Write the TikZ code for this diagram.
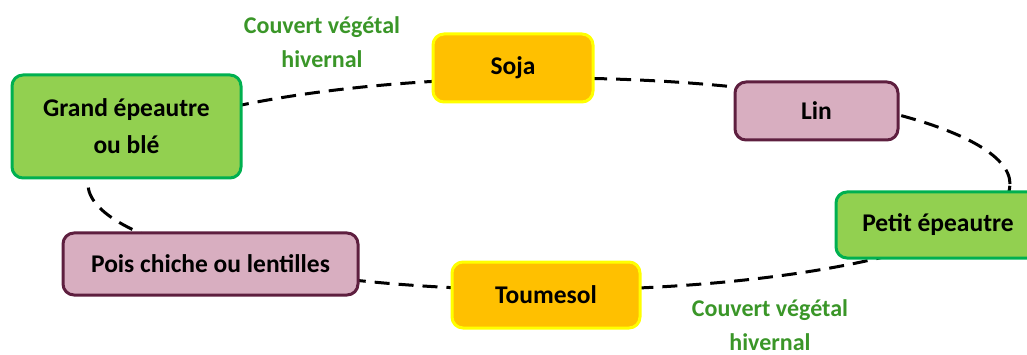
\documentclass[tikz,border=0pt]{standalone}
\usepackage{fontspec}
\setmainfont{Carlito}
\definecolor{gfill}{RGB}{146,208,80}
\definecolor{gdraw}{RGB}{0,176,80}
\definecolor{ofill}{RGB}{255,192,0}
\definecolor{odraw}{RGB}{255,255,0}
\definecolor{pfill}{RGB}{216,174,192}
\definecolor{pdraw}{RGB}{94,31,63}
\definecolor{covtext}{RGB}{58,150,40}
\begin{document}
\begin{tikzpicture}[x=1pt,y=-1pt,
  crop/.style={rectangle,rounded corners=11pt,line width=3pt,align=center,
    font=\fontsize{25.5}{37}\selectfont\bfseries,inner sep=0pt},
  cereal/.style={crop,fill=gfill,draw=gdraw},
  legume/.style={crop,fill=ofill,draw=odraw},
  other/.style={crop,fill=pfill,draw=pdraw},
  cover/.style={align=center,text=covtext,font=\fontsize{24}{34}\selectfont\bfseries,inner sep=0pt},
  ring/.style={line width=3pt,dash pattern=on 15pt off 9pt}]
\useasboundingbox (0,0) rectangle (1027,355);
\begin{scope}
\clip (0,0) rectangle (1027,355);
\draw[ring] (549,184) ellipse [x radius=461pt, y radius=106pt];
\node[cereal,minimum width=229pt,minimum height=103pt] (grand) at (126.5,126.5) {Grand épeautre\\ou blé};
\node[legume,minimum width=160pt,minimum height=68pt] (soja) at (513,68) {Soja};
\node[other,minimum width=163pt,minimum height=58pt] (lin) at (816.5,111) {Lin};
\node[cereal,minimum width=204pt,minimum height=66pt] (petit) at (938,225) {Petit épeautre};
\node[other,minimum width=295pt,minimum height=62pt] (pois) at (210.5,264) {Pois chiche ou lentilles};
\node[legume,minimum width=188pt,minimum height=66pt] (tour) at (546,295) {Toumesol};
\end{scope}
\node[cover] (cov1) at (322,42) {Couvert végétal\\hivernal};
\node[cover] (cov2) at (770,325) {Couvert végétal\\hivernal};
\end{tikzpicture}
\end{document}
